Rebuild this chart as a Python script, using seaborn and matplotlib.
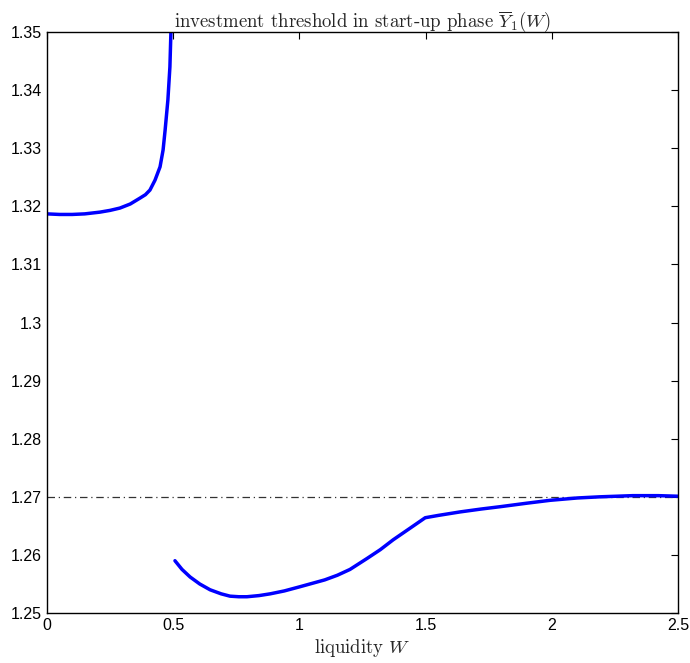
import numpy as np
import pandas as pd
import matplotlib
matplotlib.use('Agg')
import matplotlib.pyplot as plt
import seaborn as sns

# Branch 1: threshold for low liquidity (blows up near W=0.49)
w_low = [0.0, 0.05, 0.1, 0.15, 0.21, 0.25, 0.289, 0.33, 0.368, 0.39, 0.408, 0.428, 0.448,
         0.46, 0.468, 0.479, 0.487, 0.491]
y_low = [1.3187, 1.3186, 1.3186, 1.3187, 1.3190, 1.3193, 1.3197, 1.3204, 1.3214, 1.3220, 1.3228, 1.3245, 1.3268,
         1.3297, 1.3331, 1.3383, 1.3440, 1.3500]

# Branch 2: threshold for W >= 0.5
w_high = [0.507, 0.535, 0.567, 0.605, 0.646, 0.69, 0.725, 0.76, 0.792, 0.84, 0.884, 0.94, 1.0,
          1.05, 1.1, 1.15, 1.2, 1.268, 1.32, 1.371, 1.438, 1.498,
          1.55, 1.636, 1.72, 1.795, 1.9, 1.993, 2.1, 2.19, 2.32, 2.42, 2.5]
y_high = [1.2590, 1.2575, 1.2562, 1.2550, 1.2540, 1.2533, 1.2529, 1.2528, 1.2528, 1.2530, 1.2533, 1.2538, 1.2545,
          1.2551, 1.2557, 1.2565, 1.2575, 1.2594, 1.2609, 1.2626, 1.2646, 1.2664,
          1.2668, 1.2674, 1.2679, 1.2683, 1.2689, 1.2694, 1.2698, 1.2700, 1.2702, 1.2702, 1.2701]

y_ref = 1.27

x_ticks = [0, 0.5, 1, 1.5, 2, 2.5]
x_labels = ['0', '0.5', '1', '1.5', '2', '2.5']
y_ticks = [1.25, 1.26, 1.27, 1.28, 1.29, 1.30, 1.31, 1.32, 1.33, 1.34, 1.35]
y_labels = ['1.25', '1.26', '1.27', '1.28', '1.29', '1.3', '1.31', '1.32', '1.33', '1.34', '1.35']

sns.set_style('white')
plt.rcParams['font.family'] = ['Liberation Sans', 'DejaVu Sans']
plt.rcParams['mathtext.fontset'] = 'cm'

df_low = pd.DataFrame({'W': w_low, 'Y': y_low})
df_high = pd.DataFrame({'W': w_high, 'Y': y_high})

fig = plt.figure(figsize=(6.9, 6.63), dpi=100)
ax = fig.add_axes([0.068, 0.0754, 0.915, 0.8763])

sns.lineplot(data=df_low, x='W', y='Y', ax=ax, color='#0000ff', linewidth=2.5, sort=False)
sns.lineplot(data=df_high, x='W', y='Y', ax=ax, color='#0000ff', linewidth=2.5, sort=False)
ax.axhline(y_ref, color='#333333', linestyle=(0, (6, 3, 1, 3)), linewidth=0.9, zorder=1)

ax.set_xlim(0, 2.5)
ax.set_ylim(1.25, 1.35)
ax.set_xticks(x_ticks)
ax.set_xticklabels(x_labels)
ax.set_yticks(y_ticks)
ax.set_yticklabels(y_labels)
ax.tick_params(direction='in', length=5, width=0.8, labelsize=11.5, colors='black',
               top=True, right=True)
for s in ax.spines.values():
    s.set_visible(True)
    s.set_color('black')
    s.set_linewidth(1.0)

ax.set_title(r'investment threshold in start-up phase $\overline{Y}_1(W)$',
             family='cmr10', fontsize=13.5, pad=4)
ax.set_xlabel(r'liquidity $W$', family='cmr10', fontsize=13.5, labelpad=3)
ax.set_ylabel('')

fig.savefig('out.png', dpi=100)
